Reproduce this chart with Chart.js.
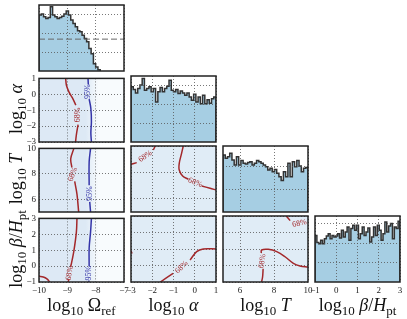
<!DOCTYPE html>
<html><head><meta charset="utf-8">
<script src="https://cdn.jsdelivr.net/npm/chart.js@4.4.0/dist/chart.umd.min.js"></script>
<style>
html,body{margin:0;padding:0;background:#fff;width:407px;height:319px;overflow:hidden;position:relative}
canvas{position:absolute}
.lab{position:absolute;font-family:'Liberation Serif',serif;font-size:18px;color:#111;white-space:nowrap;transform:translate(-50%,-50%);line-height:1}
.lab.v{transform:translate(-50%,-50%) rotate(-90deg)}
.lab sub{font-size:13px;vertical-align:-4px;line-height:0}
.lab i{font-style:italic}
</style></head><body>
<script>
// ---------- data ----------
const omegaTicks = [-10,-9,-8,-7];
const alphaTicks = [-3,-2,-1,0,1];
const tTicks = [6,8,10];
const betaTicks = [-1,0,1,2,3];

// marginal histograms (bin start, bin width, heights)
const omegaHistStart = -10, omegaHistWidth = 0.08;
const omegaHist = [2.97,3.02,2.88,2.79,2.84,3.41,2.97,2.88,2.79,2.84,2.91,3.02,3.18,2.97,2.70,2.52,2.35,2.13,2.08,1.90,1.72,1.55,1.19,0.92,0.39,0.21,0.07];
const omegaHistRefLine = 1.69;
const alphaHistStart = -3, alphaHistWidth = 4/38;
const alphaHist = [2.93,2.78,2.60,2.84,3.02,3.37,2.75,2.84,2.93,2.66,2.84,2.12,2.66,2.89,2.66,2.84,2.96,3.28,2.75,2.66,2.78,2.57,2.71,2.60,2.48,2.60,2.39,2.21,2.53,2.12,2.39,2.03,2.48,2.03,2.24,2.06,2.30,2.39];
const tHistStart = 5, tHistWidth = 5/38;
const tHist = [2.50,2.36,2.43,2.58,2.28,2.07,2.43,2.07,2.26,2.14,2.11,2.17,2.21,2.07,2.14,2.26,2.21,2.14,2.07,1.99,1.85,1.92,1.77,1.87,1.70,1.55,1.38,1.77,1.55,2.14,1.55,2.21,1.99,2.26,2.02,1.77,1.92,1.96];
const betaHistStart = -1, betaHistWidth = 4/45;
const betaHist = [2.40,2.03,1.97,2.15,1.97,2.23,2.37,2.49,2.23,2.40,2.32,2.37,2.49,2.27,2.66,2.32,2.58,2.83,2.15,2.75,2.92,2.66,2.92,2.23,2.49,2.83,2.40,2.58,2.78,2.06,2.32,2.83,2.40,2.92,2.66,2.15,2.49,3.09,2.58,2.88,3.01,2.23,2.83,2.75,3.13];

// credible contours (null = gap for inline label)
const omegaAlpha68X = [-9.06,-9.03,-8.94,-8.82,-8.70,null,-8.62,-8.68,-8.71];
const omegaAlpha68Y = [1,0.55,0.14,-0.23,-0.68,null,-1.9,-2.53,-3];
const omegaAlpha95X = [-8.27,-8.26,null,-8.23,-8.17,-8.15,-8.17,-8.15];
const omegaAlpha95Y = [1,0.62,null,-0.3,-0.89,-1.71,-2.42,-3];

const omegaT68X = [-8.77,-8.88,-8.84,null,-8.74,-8.66,-8.60];
const omegaT68Y = [10,9.19,8.5,null,7.4,6.41,5];
const omegaT95X = [-8.18,-8.23,-8.23,null,-8.21,-8.18];
const omegaT95Y = [10,8.94,7.1,null,5.8,5];

const omegaBeta68X = [-8.66,-8.68,-8.77,-8.86,-8.89,null,-8.95,-8.97];
const omegaBeta68Y = [3,2.15,0.94,0.13,-0.05,null,-0.85,-1];
const omegaBetaArcX = [-10,-9.85,-9.72,-9.62];
const omegaBetaArcY = [-0.64,-0.68,-0.8,-1];
const omegaBeta95X = [-8.15,-8.18,-8.23,-8.23,null,-8.24,-8.24];
const omegaBeta95Y = [3,2.15,1.14,0.0,null,-0.9,-1];

const alphaT68aX = [-3,-2.73,null,-1.95,-1.86];
const alphaT68aY = [8.62,8.74,null,9.70,10];
const alphaT68bX = [-0.54,-0.62,-0.73,-0.73,-0.57,-0.30,null,0.33,0.72,1.0];
const alphaT68bY = [10,9.44,8.69,8.18,7.73,7.48,null,6.97,6.80,6.67];

const alphaBeta68X = [-1.62,-1.02,null,-0.22,0.09,0.40,1.0];
const alphaBeta68Y = [-1,-0.48,null,0.33,0.84,1.0,1.0];
const alphaBetaEdgeX = [-3,-2.95];
const alphaBetaEdgeY = [0.9,0.72];

const tBeta68aX = [8.72,8.95];
const tBeta68aY = [3,2.72];
const tBeta68bX = [7.27,7.33,7.36,null,7.25,7.27,7.66,8.16,8.65,9.14,9.53,10];
const tBeta68bY = [-1,-0.68,-0.2,null,0.75,0.94,0.98,0.84,0.53,0.13,-0.03,-0.09];

// contour labels: position, text, level
const omegaAlphaLabels = [{x:-8.63,y:-1.3,text:'68%',level:68,rot:-90},{x:-8.265,y:0.16,text:'95%',level:95,rot:-90}];
const omegaTLabels = [{x:-8.81,y:7.95,text:'68%',level:68,rot:-70},{x:-8.22,y:6.45,text:'95%',level:95,rot:-90}];
const omegaBetaLabels = [{x:-8.92,y:-0.45,text:'68%',level:68,rot:-80},{x:-8.24,y:-0.45,text:'95%',level:95,rot:-90}];
const alphaTLabels = [{x:-2.33,y:9.22,text:'68%',level:68,rot:-35},{x:0.02,y:7.23,text:'68%',level:68,rot:22}];
const alphaBetaLabels = [{x:-0.62,y:-0.1,text:'68%',level:68,rot:-45}];
const tBetaLabels = [{x:7.31,y:0.27,text:'68%',level:68,rot:-82},{x:9.5,y:2.55,text:'68%',level:68,rot:-12}];

// ---------- layout / style ----------
const COLS=[39,131,223,315], ROWS=[5,76,146,216], W=85, H=66;
const LM=34, TP=6, RP=12, BM=18;
const RED='#a3282b', BLUE='#3434a8', HISTFILL='#a6cee3', HISTLINE='#333333';
const FONT='Liberation Serif';
const AX = {
  omega:{min:-10,max:-7,ticks:omegaTicks},
  alpha:{min:-3,max:1,ticks:alphaTicks},
  T:{min:5,max:10,ticks:tTicks},
  beta:{min:-1,max:3,ticks:betaTicks}
};
const fmt = v => v<0 ? '\u2212'+Math.abs(v) : String(v);

function scaleCfg(range, ticksArr, showLabels, isX, gridTop){
  return {
    type:'linear', min:range.min, max:range.max, position:isX?'bottom':'left',
    afterBuildTicks:s=>{ s.ticks = ticksArr.map(v=>({value:v})); },
    afterFit:s=>{ if(isX) s.height=BM; else s.width=LM; },
    ticks:{display:showLabels, autoSkip:false, maxRotation:0, minRotation:0, padding:3,
      font:{family:FONT,size:9}, color:'#222', callback:v=>fmt(v)},
    grid:{color:'#555', lineWidth:0.8, drawTicks:false, z:gridTop?1:-1},
    border:{display:false, dash:[1,2]}
  };
}
function pts(xs,ys){ return xs.map((x,i)=> x===null ? {x:null,y:null} : {x:x,y:ys[i]}); }
function histPts(start,width,vals){
  const p=[{x:start,y:0}];
  vals.forEach((v,i)=>p.push({x:start+i*width,y:v}));
  p.push({x:start+vals.length*width,y:0});
  return p;
}
function contour(xs,ys,level){
  return {data:pts(xs,ys), borderColor: level===95?BLUE:RED, borderWidth:1.5, pointRadius:0,
    tension:0.35, fill:false, spanGaps:false};
}
function makeCanvas(c,r){
  const cv=document.createElement('canvas');
  const w=W+LM+RP, h=H+TP+BM;
  cv.width=w; cv.height=h; cv.style.width=w+'px'; cv.style.height=h+'px';
  cv.style.left=(COLS[c]-LM)+'px'; cv.style.top=(ROWS[r]-TP)+'px';
  document.body.appendChild(cv); return cv;
}
function panelPlugin(opts){
  return {
    id:'panel',
    beforeDraw(chart){
      if(!opts.bg) return;
      const a=chart.chartArea, ctx=chart.ctx;
      ctx.save();
      if(opts.fadeX){
        const xs=chart.scales.x;
        const p0=xs.getPixelForValue(opts.fadeX[0]), p1=xs.getPixelForValue(opts.fadeX[1]);
        const g=ctx.createLinearGradient(p0,0,p1,0);
        g.addColorStop(0,'#dde9f5'); g.addColorStop(1,'#f8fbfd');
        ctx.fillStyle=g;
      } else ctx.fillStyle='#e0ecf6';
      ctx.fillRect(a.left,a.top,a.right-a.left,a.bottom-a.top);
      ctx.restore();
    },
    afterDatasetsDraw(chart){
      if(!opts.labels) return;
      const ctx=chart.ctx, xs=chart.scales.x, ys=chart.scales.y;
      ctx.save();
      ctx.font='8px "'+FONT+'"'; ctx.textAlign='center'; ctx.textBaseline='middle';
      opts.labels.forEach(l=>{
        ctx.save();
        ctx.translate(xs.getPixelForValue(l.x), ys.getPixelForValue(l.y));
        ctx.rotate(l.rot*Math.PI/180);
        ctx.fillStyle = l.level===95?BLUE:RED;
        ctx.fillText(l.text,0,0);
        ctx.restore();
      });
      ctx.restore();
    },
    afterDraw(chart){
      const a=chart.chartArea, ctx=chart.ctx;
      ctx.save(); ctx.strokeStyle='#222'; ctx.lineWidth=1.5;
      ctx.strokeRect(a.left,a.top,a.right-a.left,a.bottom-a.top);
      ctx.restore();
    }
  };
}
function build(c,r,xKey,yRange,yTicks,datasets,opts){
  const cv=makeCanvas(c,r);
  new Chart(cv,{
    type:'line',
    data:{datasets:datasets},
    options:{
      responsive:false, animation:false, devicePixelRatio:1, events:[],
      layout:{padding:{top:TP,right:RP,left:0,bottom:0}},
      plugins:{legend:{display:false},tooltip:{enabled:false}},
      scales:{
        x:scaleCfg(AX[xKey], AX[xKey].ticks, r===3, true, opts.hist),
        y:scaleCfg(yRange, yTicks, c===0 && !opts.hist, false, opts.hist)
      }
    },
    plugins:[panelPlugin(opts)]
  });
}
function histDS(start,width,vals){
  return {data:histPts(start,width,vals), stepped:'before', fill:'origin',
    backgroundColor:HISTFILL, borderColor:HISTLINE, borderWidth:1.5, pointRadius:0};
}

// ---------- diagonal ----------
build(0,0,'omega',{min:0,max:3.5},[1,2,3],[
  {data:[{x:-10,y:omegaHistRefLine},{x:-7,y:omegaHistRefLine}], borderColor:'#666', borderWidth:1, borderDash:[6,3], pointRadius:0, fill:false},
  histDS(omegaHistStart,omegaHistWidth,omegaHist)
],{hist:true});
build(1,1,'alpha',{min:0,max:3.5},[1,2,3],[histDS(alphaHistStart,alphaHistWidth,alphaHist)],{hist:true});
build(2,2,'T',{min:0,max:2.9},[1,2],[histDS(tHistStart,tHistWidth,tHist)],{hist:true});
build(3,3,'beta',{min:0,max:3.4},[1,2,3],[histDS(betaHistStart,betaHistWidth,betaHist)],{hist:true});

// ---------- pairs ----------
build(0,1,'omega',AX.alpha,AX.alpha.ticks,[
  contour(omegaAlpha68X,omegaAlpha68Y,68), contour(omegaAlpha95X,omegaAlpha95Y,95)
],{bg:true, fadeX:[-8.35,-7.9], labels:omegaAlphaLabels});
build(0,2,'omega',AX.T,AX.T.ticks,[
  contour(omegaT68X,omegaT68Y,68), contour(omegaT95X,omegaT95Y,95)
],{bg:true, fadeX:[-8.35,-7.9], labels:omegaTLabels});
build(0,3,'omega',AX.beta,AX.beta.ticks,[
  contour(omegaBeta68X,omegaBeta68Y,68), contour(omegaBetaArcX,omegaBetaArcY,68), contour(omegaBeta95X,omegaBeta95Y,95)
],{bg:true, fadeX:[-8.35,-7.9], labels:omegaBetaLabels});
build(1,2,'alpha',AX.T,AX.T.ticks,[
  contour(alphaT68aX,alphaT68aY,68), contour(alphaT68bX,alphaT68bY,68)
],{bg:true, labels:alphaTLabels});
build(1,3,'alpha',AX.beta,AX.beta.ticks,[
  contour(alphaBeta68X,alphaBeta68Y,68), contour(alphaBetaEdgeX,alphaBetaEdgeY,68)
],{bg:true, labels:alphaBetaLabels});
build(2,3,'T',AX.beta,AX.beta.ticks,[
  contour(tBeta68aX,tBeta68aY,68), contour(tBeta68bX,tBeta68bY,68)
],{bg:true, labels:tBetaLabels});

// ---------- axis titles ----------
function title(html,x,y,vert){
  const d=document.createElement('div'); d.className='lab'+(vert?' v':'');
  d.innerHTML=html; d.style.left=x+'px'; d.style.top=y+'px'; document.body.appendChild(d);
}
title('log<sub>10</sub> \u03A9<sub>ref</sub>',81.5,305,false);
title('log<sub>10</sub> <i>\u03B1</i>',173.5,305,false);
title('log<sub>10</sub> <i>T</i>',265.5,305,false);
title('log<sub>10</sub> <i>\u03B2</i>/<i>H</i><sub>pt</sub>',357.5,305,false);
title('log<sub>10</sub> <i>\u03B1</i>',16,109,true);
title('log<sub>10</sub> <i>T</i>',16,179,true);
title('log<sub>10</sub> <i>\u03B2</i>/<i>H</i><sub>pt</sub>',16,249,true);
</script>
</body></html>
